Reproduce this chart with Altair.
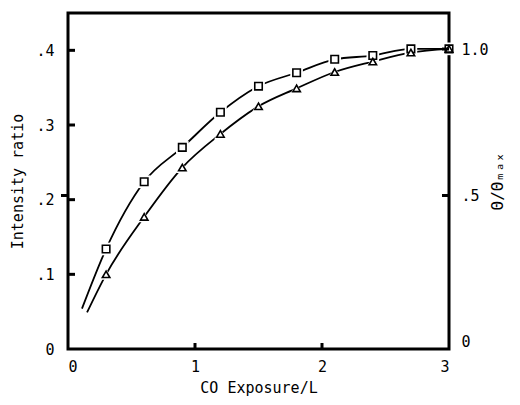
import altair as alt
import pandas as pd

# ---- data ----
exposure = [0.3, 0.6, 0.9, 1.2, 1.5, 1.8, 2.1, 2.4, 2.7, 3.0]
square_vals = [0.134, 0.224, 0.270, 0.317, 0.352, 0.370, 0.388, 0.393, 0.402, 0.402]
triangle_vals = [0.100, 0.177, 0.243, 0.288, 0.325, 0.349, 0.371, 0.385, 0.397, 0.402]
square_curve_start = [0.11, 0.054]
triangle_curve_start = [0.15, 0.049]

x_ticks = [0, 1, 2, 3]
left_ticks = [0, 0.1, 0.2, 0.3, 0.4]
left_labels = ["0", ".1", ".2", ".3", ".4"]
right_ticks = [0, 0.5, 1.0]
right_labels = ["0", ".5", "1.0"]

W, H = 381, 336
FONT = "DejaVu Sans Mono"

pts = pd.DataFrame({
    "x": exposure * 2,
    "v": square_vals + triangle_vals,
    "series": ["square"] * len(exposure) + ["triangle"] * len(exposure),
})
curve = pd.concat([
    pd.DataFrame({"x": [square_curve_start[0], triangle_curve_start[0]],
                  "v": [square_curve_start[1], triangle_curve_start[1]],
                  "series": ["square", "triangle"]}),
    pts,
], ignore_index=True)

left_expr = "[" + ",".join(f"'{s}'" for s in left_labels) + "][round(datum.value*10)]"
right_expr = " : ".join(
    f"datum.value == {v} ? '{s}'" for v, s in zip(right_ticks, right_labels)
) + " : ''"

xenc = alt.X("x:Q", scale=alt.Scale(domain=[0, 3], nice=False, zero=False),
             axis=alt.Axis(values=x_ticks, title="CO Exposure/L", domain=False, ticks=False,
                           grid=False, labelPadding=10, titlePadding=6, format="d"))
yenc = alt.Y("v:Q", scale=alt.Scale(domain=[0, 0.45], nice=False),
             axis=alt.Axis(values=left_ticks, labelExpr=left_expr, title="Intensity ratio",
                           orient="left", domain=False, ticks=False, grid=False,
                           labelPadding=14, titlePadding=10))

shape_scale = alt.Scale(domain=["square", "triangle"], range=["square", "triangle-up"])

lines = alt.Chart(curve).mark_line(color="black", strokeWidth=1.8, interpolate="monotone").encode(
    x=xenc, y=yenc, detail="series:N")
halo = alt.Chart(pts).mark_point(filled=True, color="white", size=160, opacity=1).encode(
    x="x:Q", y="v:Q", shape=alt.Shape("series:N", scale=shape_scale, legend=None))
markers = alt.Chart(pts).mark_point(filled=True, fill="white", stroke="black", strokeWidth=1.6,
                                    size=56, opacity=1).encode(
    x="x:Q", y="v:Q", shape=alt.Shape("series:N", scale=shape_scale, legend=None))

lticks = alt.Chart(pd.DataFrame({"v": left_ticks[1:]})).mark_rule(color="black", strokeWidth=3).encode(
    x=alt.value(0), x2=alt.value(7), y="v:Q")
bticks = alt.Chart(pd.DataFrame({"x": x_ticks[1:3]})).mark_rule(color="black", strokeWidth=3).encode(
    x="x:Q", y=alt.value(H), y2=alt.value(H - 6))

left_layer = alt.layer(lines, halo, markers, lticks, bticks)

renc = alt.Y("r:Q", scale=alt.Scale(domain=[-0.024, 1.123], nice=False),
             axis=alt.Axis(values=right_ticks, labelExpr=right_expr, title="Θ/Θₘₐₓ",
                           orient="right", domain=False, ticks=False, grid=False,
                           labelPadding=12, titlePadding=17, titleAngle=270,
                           titleFontSize=16))
rticks = alt.Chart(pd.DataFrame({"r": right_ticks[1:]})).mark_rule(color="black", strokeWidth=3).encode(
    x=alt.value(W), x2=alt.value(W - 7), y=renc)
rticks_out = alt.Chart(pd.DataFrame({"r": right_ticks[1:2]})).mark_rule(color="black", strokeWidth=3).encode(
    x=alt.value(-7), x2=alt.value(0), y="r:Q")
right_layer = alt.layer(rticks, rticks_out)

chart = alt.layer(left_layer, right_layer).resolve_scale(y="independent").properties(
    width=W, height=H,
    padding={"left": 60, "top": 5, "right": 63, "bottom": 48},
    autosize=alt.AutoSizeParams(type="none"),
    background="white",
).configure_view(stroke="black", strokeWidth=3).configure_axis(
    labelFont=FONT, titleFont=FONT, labelFontSize=15, titleFontSize=15,
    labelColor="black", titleColor="black", titleFontWeight="normal",
)

chart.save("out.html", embed_options={"renderer": "svg", "actions": False})
